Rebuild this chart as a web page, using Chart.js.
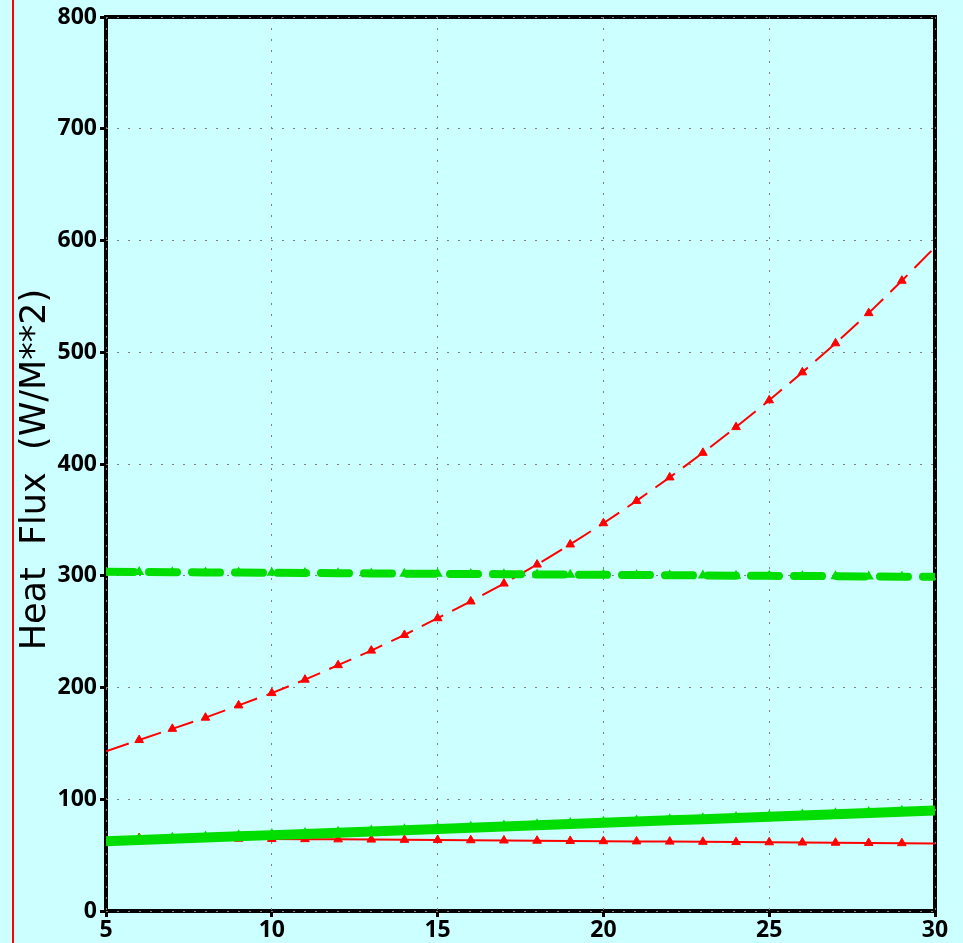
<!DOCTYPE html>
<html>
<head>
<meta charset="utf-8">
<script src="https://cdn.jsdelivr.net/npm/chart.js@4"></script>
<style>
  html, body { margin: 0; padding: 0; background: #ccffff; }
  #wrap { width: 963px; height: 943px; }
</style>
</head>
<body>
<div id="wrap"><canvas id="flux"></canvas></div>
<script>
// x values (wind speed steps 5..30)
const xs = [5, 6, 7, 8, 9, 10, 11, 12, 13, 14, 15, 16, 17, 18, 19, 20, 21, 22, 23, 24, 25, 26, 27, 28, 29, 30];

// red dashed, triangles
const redDashed = [143, 153, 163, 173, 184, 195, 207, 220, 233, 247, 262, 277, 293, 310, 328, 347, 367, 388, 410, 433, 457, 482, 508, 535, 564, 594];
// red solid, triangles
const redSolid = [65.5, 65.3, 65.1, 64.9, 64.7, 64.5, 64.3, 64.1, 63.9, 63.7, 63.5, 63.3, 63.1, 62.9, 62.7, 62.5, 62.3, 62.1, 61.9, 61.7, 61.5, 61.3, 61.1, 60.9, 60.7, 60.5];
// green thick dashed
const greenDashed = [303.5, 303.3, 303.2, 303.0, 302.8, 302.6, 302.5, 302.3, 302.1, 301.9, 301.7, 301.6, 301.4, 301.2, 301.0, 300.8, 300.7, 300.5, 300.3, 300.1, 299.9, 299.8, 299.6, 299.4, 299.2, 299.0];
// green thick solid
const greenSolid = [62.5, 63.5, 64.6, 65.7, 66.8, 67.9, 69.0, 70.1, 71.2, 72.3, 73.4, 74.5, 75.6, 76.7, 77.8, 78.9, 80.0, 81.1, 82.2, 83.3, 84.4, 85.5, 86.6, 87.7, 88.8, 90.0];

const yTicks = [0, 100, 200, 300, 400, 500, 600, 700, 800];
const xTicks = [5, 10, 15, 20, 25, 30];

function pts(vals) {
  return xs.map((x, i) => ({ x: x, y: vals[i] }));
}

// hide markers on the two end points
function innerRadius(r) {
  return function (ctx) {
    return (ctx.dataIndex === 0 || ctx.dataIndex === xs.length - 1) ? 0 : r;
  };
}

// background, red margin line and the black frame (grid dots go over it)
const backdrop = {
  id: 'backdrop',
  beforeDraw(chart) {
    const c = chart.ctx;
    const a = chart.chartArea;
    c.save();
    c.fillStyle = '#ccffff';
    c.fillRect(0, 0, chart.width, chart.height);
    c.strokeStyle = '#ff0000';
    c.lineWidth = 2;
    c.beginPath();
    c.moveTo(13, 0);
    c.lineTo(13, chart.height);
    c.stroke();
    c.strokeStyle = '#000000';
    c.lineWidth = 4;
    c.strokeRect(a.left, a.top, a.right - a.left, a.bottom - a.top);
    c.restore();
  }
};

const tickFont = { family: '"Noto Sans", "Liberation Sans", sans-serif', size: 23, weight: 'bold' };

new Chart(document.getElementById('flux'), {
  type: 'line',
  data: {
    datasets: [
      {
        data: pts(greenSolid),
        borderColor: '#00dd00',
        backgroundColor: '#00dd00',
        borderWidth: 10,
        pointStyle: 'triangle',
        pointRadius: innerRadius(7),
        pointBorderWidth: 0,
        tension: 0,
        fill: false
      },
      {
        data: pts(greenDashed),
        borderColor: '#00dd00',
        backgroundColor: '#00dd00',
        borderWidth: 8,
        borderDash: [28, 15],
        borderCapStyle: 'round',
        pointStyle: 'triangle',
        pointRadius: innerRadius(6),
        pointBorderWidth: 0,
        tension: 0,
        fill: false
      },
      {
        data: pts(redSolid),
        borderColor: '#ff0000',
        backgroundColor: '#ff0000',
        borderWidth: 2,
        pointStyle: 'triangle',
        pointRadius: innerRadius(5),
        pointBorderWidth: 1,
        tension: 0,
        fill: false
      },
      {
        data: pts(redDashed),
        borderColor: '#ff0000',
        backgroundColor: '#ff0000',
        borderWidth: 2,
        borderDash: [24, 10],
        pointStyle: 'triangle',
        pointRadius: innerRadius(5),
        pointBorderWidth: 1,
        tension: 0,
        fill: false
      }
    ]
  },
  plugins: [backdrop],
  options: {
    responsive: true,
    maintainAspectRatio: false,
    animation: false,
    layout: { padding: { top: 17, right: 28, left: 0, bottom: 0 } },
    plugins: {
      legend: { display: false },
      tooltip: { enabled: false }
    },
    scales: {
      x: {
        type: 'linear',
        min: 5,
        max: 30,
        z: 1,
        afterFit(scale) { scale.height = 32; },
        afterBuildTicks(scale) { scale.ticks = xTicks.map(v => ({ value: v })); },
        border: { display: false, dash: [2, 9] },
        grid: {
          color: '#808080',
          lineWidth: 1,
          tickColor: '#000000',
          tickWidth: 3,
          tickLength: 6,
          tickBorderDash: []
        },
        ticks: { color: '#000000', font: tickFont, padding: 0, maxRotation: 0 }
      },
      y: {
        type: 'linear',
        min: 0,
        max: 800,
        z: 1,
        afterFit(scale) { scale.width = 106; },
        afterBuildTicks(scale) { scale.ticks = yTicks.map(v => ({ value: v })); },
        border: { display: false, dash: [2, 9] },
        grid: {
          color: '#808080',
          lineWidth: 1,
          tickColor: '#000000',
          tickWidth: 3,
          tickLength: 6,
          tickBorderDash: []
        },
        ticks: { color: '#000000', font: tickFont, padding: 3 },
        title: {
          display: true,
          text: 'Heat  Flux  (W/M**2) ',
          color: '#000000',
          font: { family: '"DejaVu Sans", sans-serif', size: 35, weight: 'normal' },
          padding: { top: 15, bottom: 0 }
        }
      }
    }
  }
});
</script>
</body>
</html>
